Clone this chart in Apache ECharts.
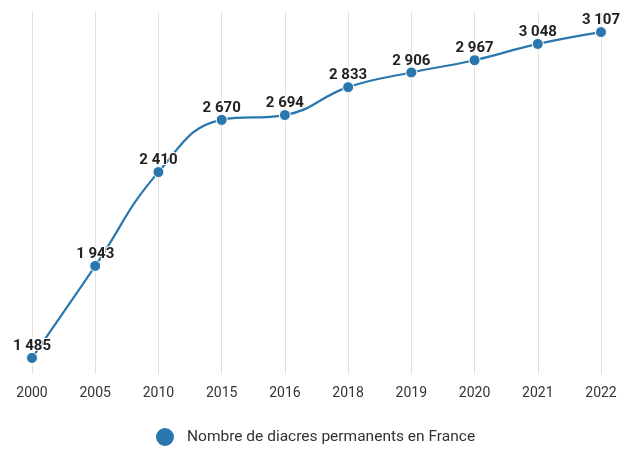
<!DOCTYPE html>
<html><head><meta charset="utf-8">
<script src="https://cdn.jsdelivr.net/npm/echarts@6/dist/echarts.min.js"></script>
<style>html,body{margin:0;padding:0;background:#fff}#c{width:623px;height:449px}</style>
</head><body><div id="c"></div>
<script>
const years = ['2000','2005','2010','2015','2016','2018','2019','2020','2021','2022'];
const deacons = [1485,1943,2410,2670,2694,2833,2906,2967,3048,3107];
const seriesName = 'Nombre de diacres permanents en France';
const fmt = v => String(v).replace(/\B(?=(\d{3})+(?!\d))/g, ' ');
const chart = echarts.init(document.getElementById('c'));
chart.setOption({
  animation:false,
  backgroundColor:'#fff',
  grid:{left:32,right:22,top:12,bottom:75},
  legend:{top:426,left:154,padding:0,itemWidth:34,itemHeight:20,icon:'circle',itemGap:10,
    textStyle:{fontFamily:'Roboto',fontSize:15.5,color:'#333'},data:[seriesName]},
  xAxis:{type:'category',data:years,boundaryGap:false,
    axisLine:{show:false},axisTick:{show:false},
    axisLabel:{fontFamily:'Roboto',fontSize:14,color:'#333',margin:12},
    splitLine:{show:true,lineStyle:{color:'#e0e0e0',width:1}}},
  yAxis:{type:'value',min:1405,max:3207,show:false,splitLine:{show:false}},
  series:[{name:seriesName,type:'line',data:deacons,smooth:0.45,
    color:'#2a77ad',
    lineStyle:{width:2.2,color:'#2a77ad'},
    symbol:'circle',symbolSize:11,
    itemStyle:{color:'#2a77ad',borderColor:'#fff',borderWidth:1},
    label:{show:true,position:'top',distance:-2,formatter:p=>fmt(p.value),
      fontFamily:'Roboto',fontWeight:'bold',fontSize:15,color:'#222',
      textBorderColor:'#fff',textBorderWidth:2}}]
});
</script></body></html>
